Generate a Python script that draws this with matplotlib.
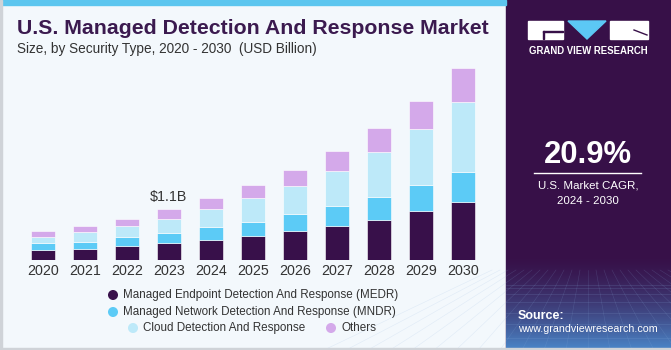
import numpy as np
import matplotlib
matplotlib.use("Agg")
import matplotlib.pyplot as plt
from matplotlib.patches import Rectangle, Polygon, Circle

plt.rcParams["font.family"] = ["Liberation Sans", "DejaVu Sans"]

years = ["2020", "2021", "2022", "2023", "2024", "2025", "2026", "2027", "2028", "2029", "2030"]
medr = [0.21, 0.25, 0.30, 0.36, 0.43, 0.52, 0.63, 0.73, 0.88, 1.07, 1.26]
mndr = [0.15, 0.15, 0.21, 0.23, 0.28, 0.31, 0.36, 0.44, 0.50, 0.57, 0.66]
cloud = [0.14, 0.20, 0.22, 0.31, 0.39, 0.51, 0.61, 0.77, 0.96, 1.21, 1.51]
others = [0.12, 0.14, 0.17, 0.20, 0.24, 0.28, 0.36, 0.42, 0.52, 0.61, 0.75]
series_names = ["Managed Endpoint Detection And Response (MEDR)",
                "Managed Network Detection And Response (MNDR)",
                "Cloud Detection And Response", "Others"]
colors = ["#38104a", "#5ccbf6", "#bde9f9", "#d4a9ea"]
W, H = 671, 350
bg = "#f3f8fc"
panel = "#371048"

fig = plt.figure(figsize=(W / 100, H / 100), dpi=100)
fig.patch.set_facecolor(bg)
renderer = fig.canvas.get_renderer()


def fx(x):
    return x / W


def fy(y):
    return 1 - y / H


def fit(t, width):
    # shrink/grow a text so it spans the wanted pixel width
    w = t.get_window_extent(renderer).width
    t.set_fontsize(t.get_fontsize() * width / w)


# borders
fig.patches.append(Rectangle((0, fy(5)), fx(506), 5 / H, transform=fig.transFigure,
                             color="#5cc6ef", zorder=0))
fig.patches.append(Rectangle((0, 0), 2 / W, 1, transform=fig.transFigure, color="#cfd3d8", zorder=0))
fig.patches.append(Rectangle((0, 0), 1, 2 / H, transform=fig.transFigure, color="#cfd3d8", zorder=0))

# main chart
ax = fig.add_axes([fx(22), fy(260), fx(462), 200 / H])
ax.set_facecolor("none")
x = np.arange(len(years))
bottom = np.zeros(len(years))
for vals, c in zip([medr, mndr, cloud, others], colors):
    ax.bar(x, vals, width=0.57, bottom=bottom, color=c, edgecolor="#ffffff", linewidth=0.4)
    bottom += np.array(vals)
ax.set_xlim(-0.5, len(years) - 0.5)
ax.set_ylim(0, 200 / 46)
ax.set_xticks(x)
ax.set_xticklabels(years, fontsize=10.3, color="#333333")
ax.tick_params(axis="x", length=0, pad=3)
ax.set_yticks([])
for s in ax.spines.values():
    s.set_visible(False)
ax.text(3, bottom[3] + 0.12, "$1.1B", ha="center", va="bottom", fontsize=10.3, color="#333333")

# titles
t = fig.text(fx(17), fy(28), "U.S. Managed Detection And Response Market", fontsize=14.5,
             fontweight="bold", color="#3b1a4f", va="center", ha="left")
fit(t, 471)
t = fig.text(fx(17), fy(49), "Size, by Security Type, 2020 - 2030  (USD Billion)", fontsize=10,
             color="#333333", va="center", ha="left")
fit(t, 301)

# legend
leg = fig.add_axes([0, 0, 1, 1], facecolor="none")
leg.axis("off")
leg_pos = [(113, 295), (113, 312), (133, 328), (331, 328)]
for (lx, ly), name, c in zip(leg_pos, series_names, colors):
    leg.add_patch(Circle((lx, ly), 4.3, color=c))
    t = leg.text(lx + 10, ly, name, fontsize=10, color="#333333", va="center", ha="left")
    if name.endswith("(MEDR)"):
        fit(t, 273)
        fs = t.get_fontsize()
for txt in leg.texts:
    txt.set_fontsize(fs)

# right panel
leg.add_patch(Rectangle((506, 0), 165, 350, color=panel, zorder=1))
grad = np.linspace(0, 1, 100)[:, None]
c0 = np.array(matplotlib.colors.to_rgb(panel))
c1 = np.array(matplotlib.colors.to_rgb("#4a86c8"))
img = c0 + (c1 - c0) * grad[..., None] ** 1.5
img = np.repeat(img, 2, axis=1)
leg.imshow(img, extent=(506, 671, 350, 255), aspect="auto", zorder=2)
for i in range(9):
    yy = 285 + i ** 1.6 * 3
    leg.plot([506, 671], [yy, yy], color="#8fb3e0", lw=0.4, alpha=0.25, zorder=3)
for i in range(-12, 13):
    leg.plot([588 + i * 8, 588 + i * 22], [270, 350], color="#8fb3e0", lw=0.4, alpha=0.2, zorder=3)
leg.set_xlim(0, W)
leg.set_ylim(H, 0)

# logo
leg.add_patch(Rectangle((528, 21), 35, 18, color="white", zorder=4))
leg.add_patch(Rectangle((543, 31), 20, 1.2, color=panel, zorder=5))
leg.add_patch(Rectangle((543, 31), 1.2, 8, color=panel, zorder=5))
leg.add_patch(Polygon([(568, 21), (606, 21), (587, 39)], color="#5cc8f5", zorder=4))
leg.add_patch(Rectangle((610, 21), 38, 18, color="white", zorder=4))
leg.plot([634, 647], [30, 35], color=panel, lw=1, zorder=5)
t = leg.text(588, 51, "GRAND VIEW RESEARCH", fontsize=7, fontweight="bold", color="white",
             ha="center", va="center", zorder=5)
fit(t, 120)

t = leg.text(588, 155, "20.9%", fontsize=21, fontweight="bold", color="white",
             ha="center", va="center", zorder=5)
fit(t, 88)
leg.plot([534, 641], [173, 173], color="white", lw=1, zorder=5)
t = leg.text(588, 186, "U.S. Market CAGR,", fontsize=10, color="white", ha="center", va="center", zorder=5)
fit(t, 100)
leg.text(588, 201, "2024 - 2030", fontsize=t.get_fontsize(), color="white", ha="center", va="center", zorder=5)
leg.text(518, 316, "Source:", fontsize=9, fontweight="bold", color="white", ha="left", va="center", zorder=5)
t = leg.text(518, 329, "www.grandviewresearch.com", fontsize=9, color="white", ha="left", va="center", zorder=5)
fit(t, 138)

fig.savefig("out.png", dpi=100, facecolor=fig.get_facecolor())
